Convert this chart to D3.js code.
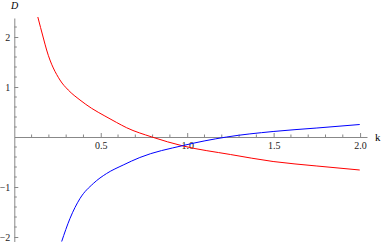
<!DOCTYPE html>
<html>
<head>
<meta charset="utf-8">
<script src="https://cdn.jsdelivr.net/npm/d3@7"></script>
<style>
  body { margin: 0; background: #fff; }
  svg { display: block; }
  .axis text { font-family: "Liberation Serif", serif; font-size: 10px; fill: #222; }
  .axis path, .axis line { stroke: #888; }
</style>
</head>
<body>
<svg width="382" height="242"></svg>
<script>
// values
const kRed = [0.136, 0.168, 0.187, 0.264, 0.312, 0.38, 0.447, 0.524, 0.592, 0.65, 0.796, 0.977, 1.25, 1.497, 1.75, 1.998];
const dRed = [2.40, 1.98, 1.74, 1.14, 0.94, 0.74, 0.574, 0.42, 0.29, 0.185, 0.0, -0.18, -0.35, -0.49, -0.58, -0.66];
const kBlue = [0.274, 0.322, 0.38, 0.457, 0.534, 0.63, 0.726, 0.977, 1.228, 1.497, 1.75, 1.998];
const dBlue = [-2.09, -1.63, -1.23, -0.93, -0.73, -0.56, -0.41, -0.17, 0.0, 0.11, 0.18, 0.25];
const xMajor = [0.5, 1.0, 1.5, 2.0];
const yMajor = [-2, -1, 1, 2];
const xMinor = d3.range(1, 21).map(i => i / 10).filter(v => Math.abs(v * 2 - Math.round(v * 2)) > 1e-6);
const yMinor = d3.range(-10, 12).map(i => i / 5).filter(v => Math.abs(v - Math.round(v)) > 1e-6);

const svg = d3.select("svg");
const x = d3.scaleLinear().domain([0, 2.04]).range([14.3, 367]);
const y = d3.scaleLinear().domain([-2.1, 2.38]).range([242, 18]);

const intFmt = d3.format(".0f");

// x axis
const xAxisG = svg.append("g")
  .attr("class", "axis")
  .attr("transform", `translate(0,${y(0)})`)
  .call(d3.axisBottom(x).tickValues(xMajor).tickFormat(d3.format(".1f"))
    .tickSize(-4).tickSizeOuter(0).tickPadding(5));
xAxisG.selectAll(".minor")
  .data(xMinor)
  .enter().append("line")
  .attr("class", "minor")
  .attr("x1", d => x(d)).attr("x2", d => x(d))
  .attr("y1", 0).attr("y2", -2.5);

// y axis
const yAxisG = svg.append("g")
  .attr("class", "axis")
  .attr("transform", `translate(${x(0)},0)`)
  .call(d3.axisLeft(y).tickValues(yMajor).tickFormat(d => intFmt(d).replace("-", "\u2212"))
    .tickSize(-4).tickSizeOuter(0).tickPadding(4));
yAxisG.selectAll(".minor")
  .data(yMinor)
  .enter().append("line")
  .attr("class", "minor")
  .attr("y1", d => y(d)).attr("y2", d => y(d))
  .attr("x1", 0).attr("x2", 2.5);

// axis labels
svg.append("text")
  .attr("x", 375)
  .attr("y", y(0) + 4)
  .style("font-family", "Liberation Serif, serif")
  .style("font-size", "11px")
  .text("k");
svg.append("text")
  .attr("x", 11)
  .attr("y", 9)
  .style("font-family", "Liberation Serif, serif")
  .style("font-style", "italic")
  .style("font-size", "10px")
  .text("D");

const line = d3.line()
  .x(d => x(d[0]))
  .y(d => y(d[1]))
  .curve(d3.curveMonotoneX);

svg.append("path")
  .datum(d3.zip(kRed, dRed))
  .attr("fill", "none")
  .attr("stroke", "#f00")
  .attr("stroke-width", 1)
  .attr("d", line);

svg.append("path")
  .datum(d3.zip(kBlue, dBlue))
  .attr("fill", "none")
  .attr("stroke", "#00f")
  .attr("stroke-width", 1)
  .attr("d", line);
</script>
</body>
</html>
